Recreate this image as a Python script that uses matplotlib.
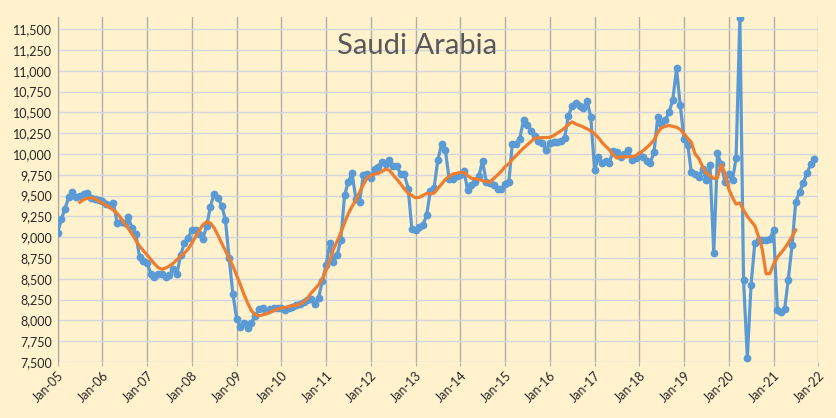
import numpy as np
import pandas as pd
import matplotlib
matplotlib.use("Agg")
import matplotlib.pyplot as plt
import matplotlib.dates as mdates
from matplotlib.ticker import FuncFormatter, FixedLocator

# Saudi Arabia crude output (kb/d), monthly
y2005 = [9056, 9222, 9342, 9480, 9540, 9480, 9490, 9515, 9530, 9475, 9465, 9450]
y2006 = [9440, 9400, 9385, 9415, 9172, 9184, 9165, 9237, 9105, 9036, 8756, 8712]
y2007 = [8690, 8560, 8523, 8555, 8560, 8516, 8543, 8623, 8555, 8780, 8930, 8990]
y2008 = [9084, 9090, 9044, 8984, 9135, 9368, 9524, 9476, 9378, 9212, 8744, 8320]
y2009 = [8022, 7922, 7966, 7906, 7970, 8056, 8131, 8143, 8110, 8135, 8143, 8150]
y2010 = [8150, 8125, 8150, 8165, 8180, 8200, 8222, 8243, 8255, 8203, 8275, 8470]
y2011 = [8664, 8932, 8704, 8786, 8964, 9505, 9665, 9766, 9465, 9425, 9745, 9760]
y2012 = [9713, 9817, 9845, 9905, 9877, 9925, 9857, 9857, 9754, 9754, 9585, 9104]
y2013 = [9084, 9124, 9145, 9264, 9560, 9597, 9925, 10118, 10046, 9705, 9697, 9733]
y2014 = [9745, 9796, 9565, 9625, 9665, 9733, 9917, 9665, 9653, 9625, 9585, 9585]
y2015 = [9636, 9665, 10118, 10126, 10186, 10406, 10346, 10278, 10214, 10157, 10133, 10054]
y2016 = [10133, 10140, 10150, 10160, 10194, 10458, 10578, 10607, 10578, 10554, 10635, 10446]
y2017 = [9805, 9964, 9897, 9913, 9897, 10034, 10026, 9964, 9994, 10046, 9925, 9946]
y2018 = [9986, 9964, 9913, 9897, 10026, 10446, 10366, 10406, 10506, 10647, 11028, 10587]
y2019 = [10186, 10106, 9785, 9765, 9725, 9825, 9685, 9865, 8804, 10006, 9875, 9665]
y2020 = [9755, 9693, 9950, 11640, 8483, 7550, 8423, 8932, 8964, 8972, 8972, 8984]
y2021 = [9084, 8125, 8103, 8131, 8491, 8904, 9425, 9545, 9653, 9773, 9877, 9934]

output = (y2005 + y2006 + y2007 + y2008 + y2009 + y2010 + y2011 + y2012 + y2013
          + y2014 + y2015 + y2016 + y2017 + y2018 + y2019 + y2020 + y2021)

months = pd.date_range("2005-01-01", periods=len(output), freq="MS")
series = pd.Series(output, index=months, dtype=float)

# 12 month moving average, window t-6 .. t+5 like the original trendline
avg12 = series.rolling(12).mean().shift(-5)

year_ticks = pd.date_range("2005-01-01", "2022-01-01", freq="YS")
y_ticks = np.arange(7500, 11501, 250)

plt.rcParams["font.family"] = ["Lato", "DejaVu Sans"]

bg = "#FFF2CC"
fig = plt.figure(figsize=(8.36, 4.18), dpi=100, facecolor=bg)
ax = fig.add_axes([0.069, 0.134, 0.9098, 0.826], facecolor=bg)

ax.plot(series.index, series.values, color="#5B9BD5", lw=2.3,
        marker="o", ms=4.6, zorder=3)
ax.plot(avg12.index, avg12.values, color="#ED7D31", lw=2.3, zorder=4)

ax.set_xlim(year_ticks[0], year_ticks[-1])
ax.set_ylim(7500, 11650)

ax.xaxis.set_major_locator(FixedLocator(mdates.date2num(year_ticks)))
ax.xaxis.set_major_formatter(mdates.DateFormatter("%b-%y"))
ax.yaxis.set_major_locator(FixedLocator(y_ticks))
ax.yaxis.set_major_formatter(FuncFormatter(lambda v, p: f"{v:,.0f}"))

ax.grid(axis="y", color="#D3D6DE", lw=1.0, zorder=0)
ax.grid(axis="x", color="#B0B0B0", lw=1.0, zorder=0)
ax.set_axisbelow(True)

for s in ["top", "right", "bottom"]:
    ax.spines[s].set_visible(False)
ax.spines["left"].set_color("#A6A6A6")

ax.tick_params(axis="y", length=0, labelsize=9, colors="#262626", pad=4)
ax.tick_params(axis="x", length=3, color="#B0B0B0", labelsize=9,
               colors="#262626", pad=2)
for lbl in ax.get_xticklabels():
    lbl.set_rotation(45)
    lbl.set_ha("right")
    lbl.set_rotation_mode("anchor")

ax.text(0.473, 0.915, "Saudi Arabia", transform=ax.transAxes, ha="center",
        va="center", fontsize=21, color="#595959")

fig.savefig("out.png", dpi=100, facecolor=bg)
